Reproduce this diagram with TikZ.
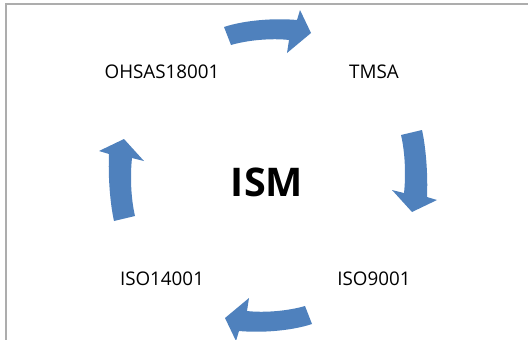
\documentclass[tikz,border=0pt]{standalone}
\usepackage{fontspec}
\setmainfont{Open Sans}
\usetikzlibrary{calc}
\definecolor{ismblue}{RGB}{79,129,189}
\colorlet{framegray}{black!32}
\tikzset{
  blockarrow/.style={fill=ismblue, draw=none},
  stdlabel/.style={anchor=base, inner sep=0pt, font=\fontsize{18.8}{22}\selectfont},
  corelabel/.style={anchor=base, inner sep=0pt, font=\fontsize{39.5}{44}\selectfont\bfseries}
}

\begin{document}
\begin{tikzpicture}[x=1pt, y=-1pt]
    \useasboundingbox (0,0) rectangle (528,340);

    \coordinate (C) at (268,175.5); % centre of the cycle

    % frame (top and left only)
    \draw[framegray, line width=1.1pt] (6,340) -- (6,4) -- (528,4);

    % labels
    \node[corelabel] (ism) at (267,196) {ISM};
    \node[stdlabel] (ohsas) at (162,78) {OHSAS18001};
    \node[stdlabel] (tmsa) at (374,78) {TMSA};
    \node[stdlabel] (iso9) at (374,285) {ISO9001};
    \node[stdlabel] (iso14) at (162,285) {ISO14001};

    % curved block arrows: top and right, the other two turned round C
    \foreach \rot in {0,180}{
      \begin{scope}[rotate around={\rot:(C)}]
        \fill[blockarrow] (224,27) .. controls (245,20) and (275,18) .. (297,20)
          -- (300,10) -- (311,33) -- (287,53) -- (289,40)
          .. controls (272,38) and (248,40) .. (231,45) -- cycle;
        \fill[blockarrow] (401,135) -- (422,130) .. controls (426,148) and (428,175) .. (427,197)
          -- (437,200) -- (412,212) -- (392,190) -- (404,193)
          .. controls (406,175) and (405,152) .. (401,135) -- cycle;
      \end{scope}
    }
\end{tikzpicture}
\end{document}
